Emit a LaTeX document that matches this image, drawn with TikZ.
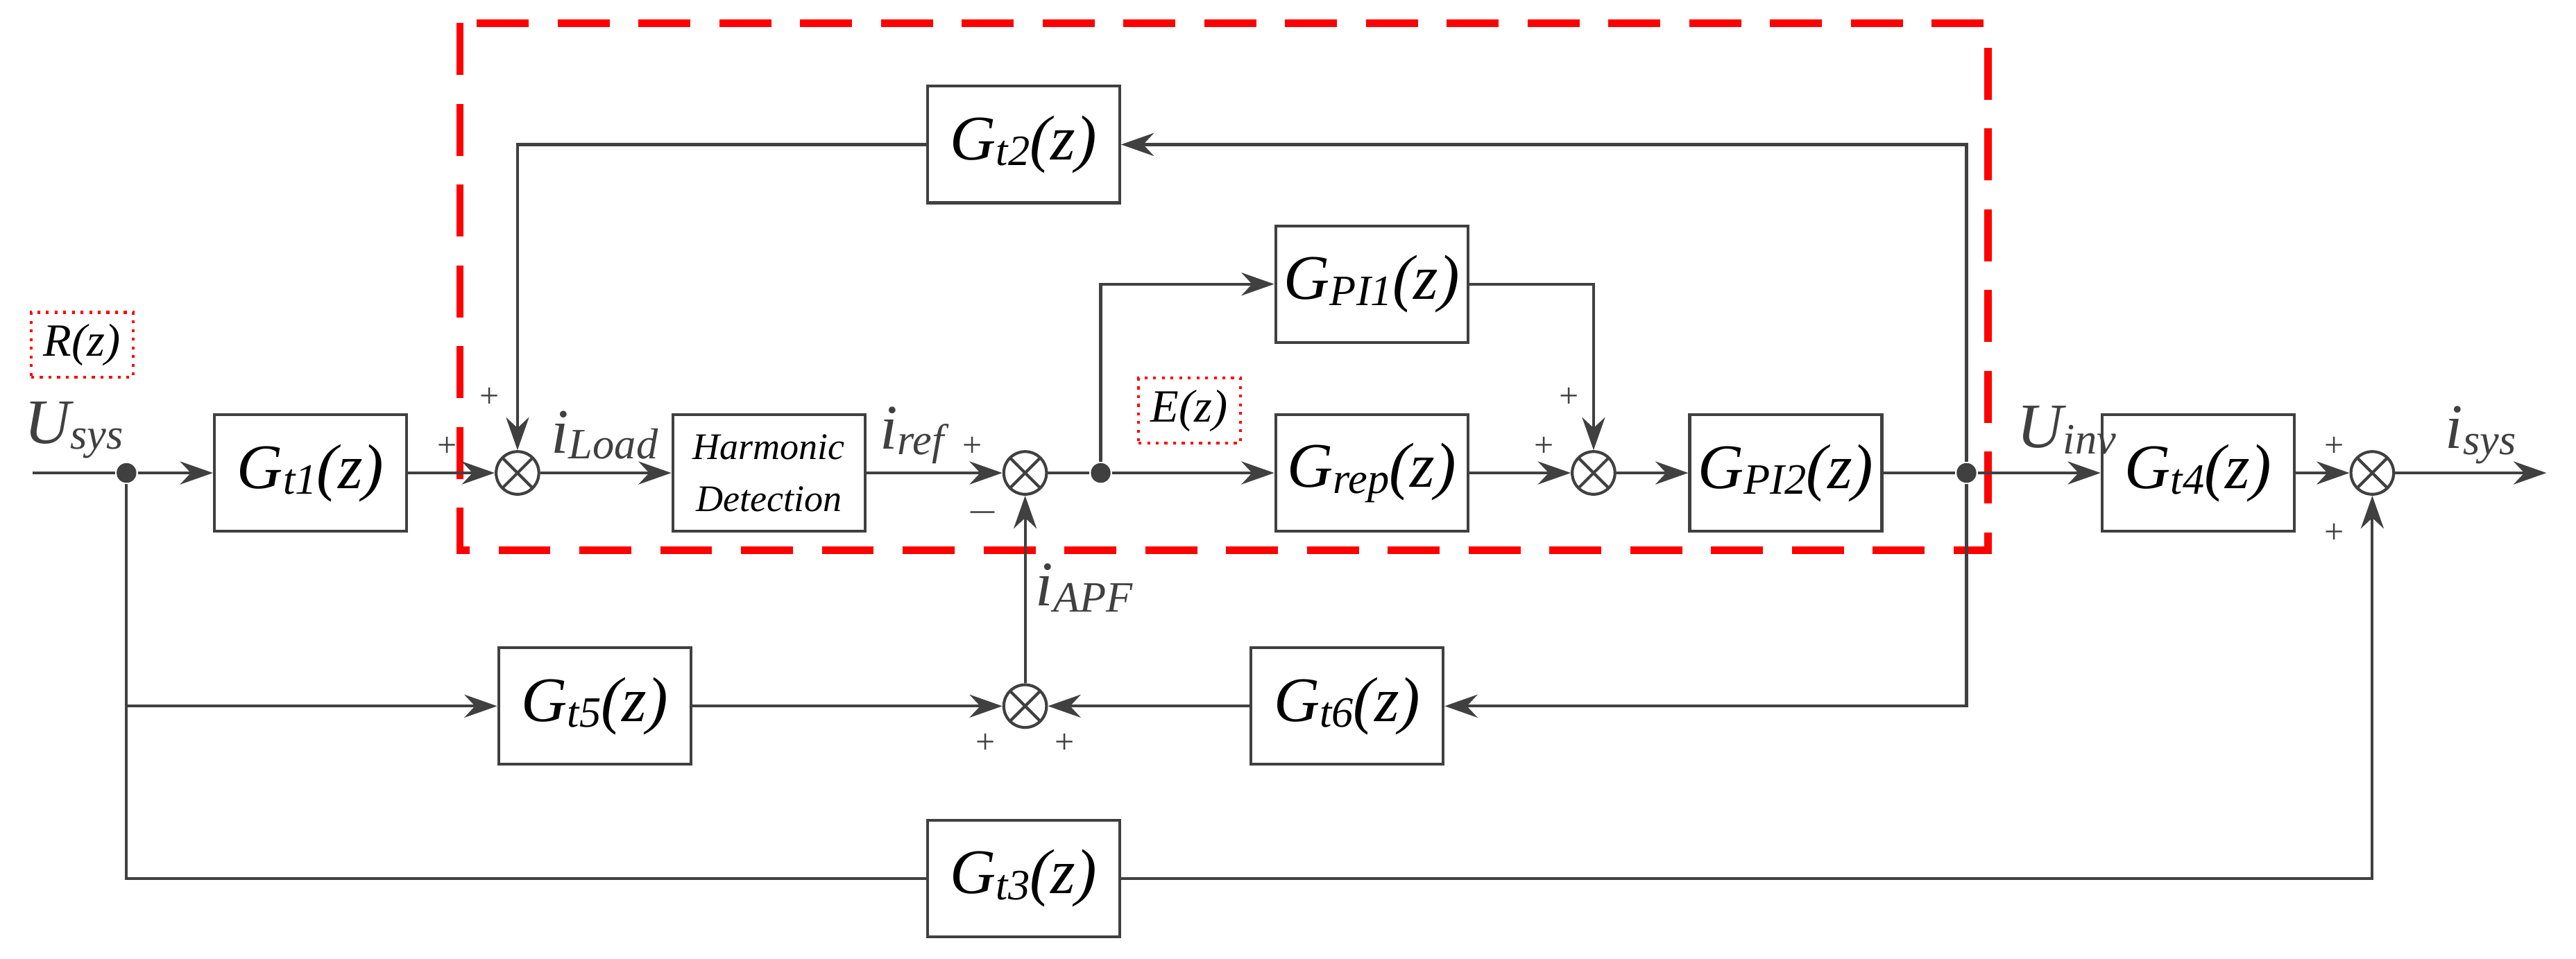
\documentclass[tikz,border=0pt]{standalone}
\usepackage{fontspec}
\setmainfont{Liberation Serif}
\usetikzlibrary{arrows.meta}
\definecolor{ln}{HTML}{404040}
\newcommand{\Gf}[1]{\fontsize{11}{13}\selectfont\itshape G\raisebox{-0.2ex}{\fontsize{7.5}{9}\selectfont #1}(z)}
\newcommand{\Sl}[2]{\fontsize{11}{13}\selectfont\itshape #1\raisebox{-0.2ex}{\fontsize{7.5}{9}\selectfont #2}}
\begin{document}
\begin{tikzpicture}[x=0.1mm,y=-0.1mm,
  line width=0.5pt, draw=ln,
  blk/.style={draw=ln,minimum width=11.7mm,minimum height=7.1mm,inner sep=0pt},
  sum/.style={draw=ln,circle,minimum size=2.6mm,inner sep=0pt,path picture={\draw[ln] (path picture bounding box.north west)--(path picture bounding box.south east) (path picture bounding box.north east)--(path picture bounding box.south west);}},
  dot/.style={circle,fill=ln,inner sep=0pt,minimum size=1.2mm},
  ar/.style={-{Stealth[length=2mm,width=1.4mm]},ln},
  sg/.style={font=\fontsize{6}{7}\selectfont,text=ln},
  lab/.style={text=ln,inner sep=1pt},
  rbox/.style={draw=red,densely dotted,font=\fontsize{8}{9}\selectfont\itshape,inner sep=2pt,minimum width=6.2mm,minimum height=3.2mm}]
\useasboundingbox (0,0) rectangle (1568,584);
\draw[red,dashed,line width=1.3pt,dash pattern=on 9pt off 5pt] (280,14) rectangle (1210,335);
\node[blk] (gt2) at (623,88) {\Gf{t2}};
\node[blk] (gpi1) at (835,173) {\Gf{PI1}};
\node[blk] (gt1) at (189,288) {\Gf{t1}};
\node[blk,align=center,font=\fontsize{6.5}{9}\selectfont\itshape] (hd) at (468,288) {Harmonic\\Detection};
\node[blk] (grep) at (835,288) {\Gf{rep}};
\node[blk] (gpi2) at (1087,288) {\Gf{PI2}};
\node[blk] (gt4) at (1338,288) {\Gf{t4}};
\node[blk] (gt5) at (362,430) {\Gf{t5}};
\node[blk] (gt6) at (820,430) {\Gf{t6}};
\node[blk] (gt3) at (623,535) {\Gf{t3}};
\node[sum] (s1) at (315,288) {};
\node[sum] (s2) at (624,288) {};
\node[sum] (s3) at (970,288) {};
\node[sum] (s4) at (1444,288) {};
\node[sum] (s5) at (624,430) {};
\node[dot] (d1) at (77,288) {};
\node[dot] (d2) at (670,288) {};
\node[dot] (d3) at (1197,288) {};
\coordinate (in) at (20,288);
\coordinate (out) at (1550,288);
\draw (in) -- (d1);
\draw[ar] (d1) -- (gt1);
\draw[ar] (gt1) -- (s1);
\draw[ar] (s1) -- (hd);
\draw[ar] (hd) -- (s2);
\draw (s2) -- (d2);
\draw[ar] (d2) -- (grep);
\draw[ar] (grep) -- (s3);
\draw[ar] (s3) -- (gpi2);
\draw (gpi2) -- (d3);
\draw[ar] (d3) -- (gt4);
\draw[ar] (gt4) -- (s4);
\draw[ar] (s4) -- (out);
\draw[ar] (d2) |- (gpi1);
\draw[ar] (gpi1) -| (s3);
\draw[ar] (d3) |- (gt2);
\draw[ar] (gt2) -| (s1);
\draw[ar] (d3) |- (gt6);
\draw[ar] (gt6) -- (s5);
\draw[ar] (s5) -- (s2);
\draw[ar] (d1 |- gt5) -- (gt5);
\draw[ar] (gt5) -- (s5);
\draw (d1) |- (gt3);
\draw[ar] (gt3) -| (s4);
\node[rbox] at (50,210) {R(z)};
\node[rbox] at (724,250) {E(z)};
\node[lab] at (45,262) {\Sl{U}{sys}};
\node[lab] at (368,265) {\Sl{i}{Load}};
\node[lab] at (555,265) {\Sl{i}{ref}};
\node[lab] at (1258,262) {\Sl{U}{inv}};
\node[lab] at (1510,265) {\Sl{i}{sys}};
\node[lab] at (660,358) {\Sl{i}{APF}};
\node[sg] at (298,242) {+};
\node[sg] at (272,272) {+};
\node[sg] at (592,272) {+};
\node[sg] at (598,312) {$-$};
\node[sg] at (955,242) {+};
\node[sg] at (940,272) {+};
\node[sg] at (1421,272) {+};
\node[sg] at (1421,325) {+};
\node[sg] at (600,453) {+};
\node[sg] at (648,453) {+};
\end{tikzpicture}
\end{document}
